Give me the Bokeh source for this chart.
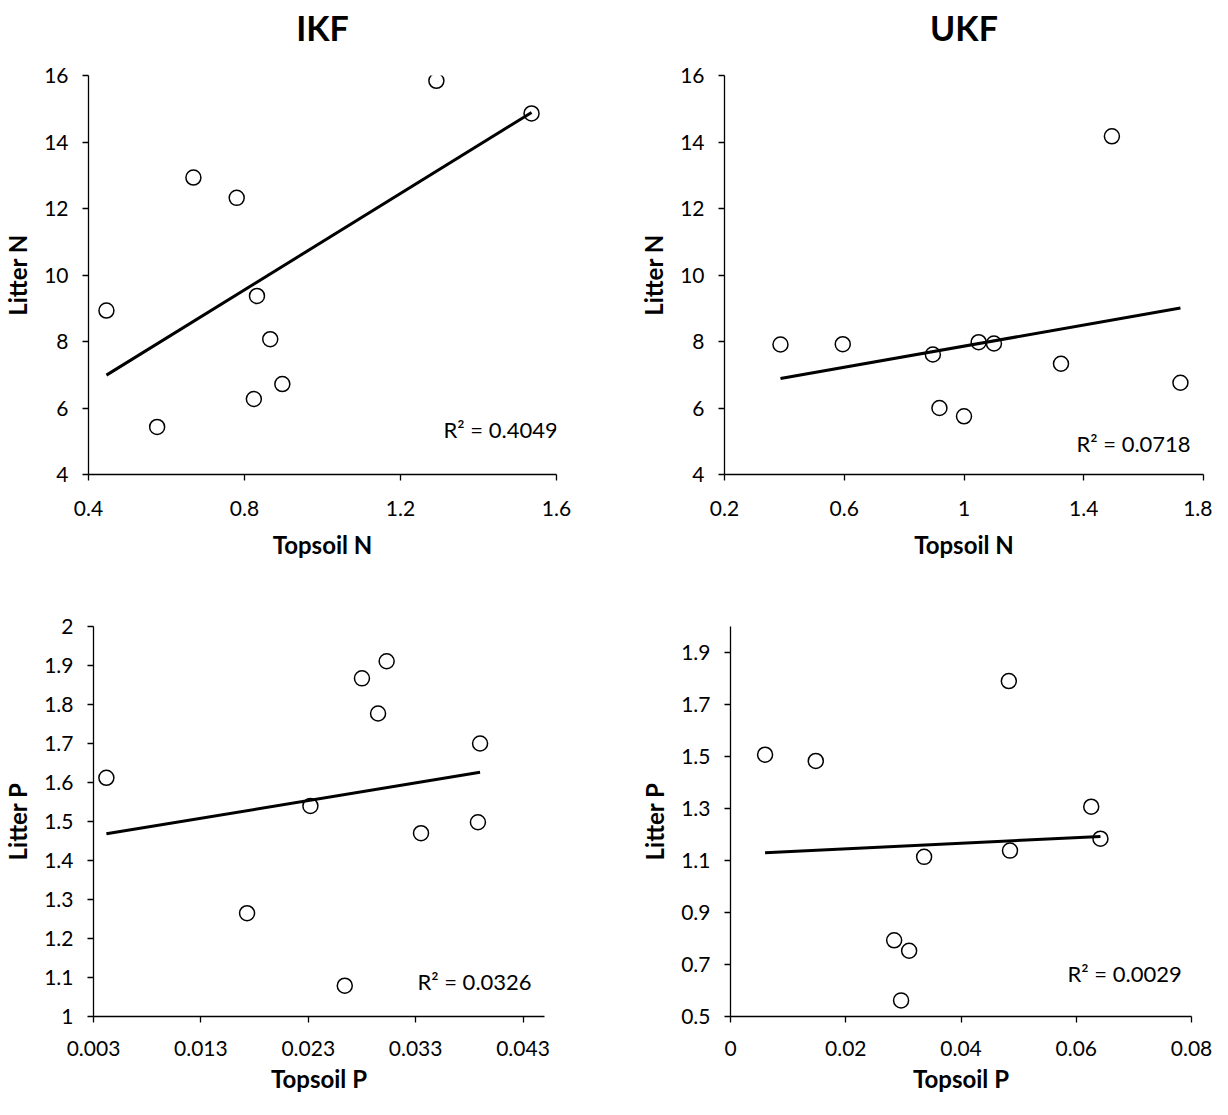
import numpy as np
from bokeh.plotting import figure
from bokeh.layouts import column, row
from bokeh.models import FixedTicker, CustomJSTickFormatter, Label, Range1d, Title
from bokeh.embed import file_html
from bokeh.resources import INLINE

# ---- data ----
ikf_topsoil_n = [1.292, 1.536, 0.669, 0.780, 0.446, 0.832, 0.866, 0.897, 0.824, 0.576]
ikf_litter_n = [15.84, 14.86, 12.93, 12.32, 8.93, 9.37, 8.07, 6.72, 6.27, 5.43]

ukf_topsoil_n = [0.387, 0.595, 0.896, 0.918, 1.000, 1.049, 1.100, 1.324, 1.494, 1.723]
ukf_litter_n = [7.91, 7.92, 7.61, 6.00, 5.75, 7.98, 7.94, 7.33, 14.17, 6.76]

ikf_topsoil_p = [0.0042, 0.0173, 0.0232, 0.0264, 0.0280, 0.0295, 0.0303, 0.0335, 0.0388, 0.0390]
ikf_litter_p = [1.612, 1.265, 1.540, 1.079, 1.867, 1.777, 1.911, 1.470, 1.498, 1.700]

ukf_topsoil_p = [0.0060, 0.0148, 0.0284, 0.0310, 0.0296, 0.0336, 0.0483, 0.0485, 0.0626, 0.0642]
ukf_litter_p = [1.507, 1.483, 0.793, 0.753, 0.562, 1.114, 1.790, 1.138, 1.307, 1.184]

r2_labels = ["R\u00b2 = 0.4049", "R\u00b2 = 0.0718", "R\u00b2 = 0.0326", "R\u00b2 = 0.0029"]
titles = ["IKF", "UKF"]

ticks_n_ikf_x = [0.4, 0.8, 1.2, 1.6]
ticks_n_ukf_x = [0.2, 0.6, 1.0, 1.4, 1.8]
ticks_n_y = [4, 6, 8, 10, 12, 14, 16]
ticks_p_ikf_x = [0.003, 0.013, 0.023, 0.033, 0.043]
ticks_p_ikf_y = [1.0, 1.1, 1.2, 1.3, 1.4, 1.5, 1.6, 1.7, 1.8, 1.9, 2.0]
ticks_p_ukf_x = [0.0, 0.02, 0.04, 0.06, 0.08]
ticks_p_ukf_y = [0.5, 0.7, 0.9, 1.1, 1.3, 1.5, 1.7, 1.9]

FONT = "Lato"
fmt_code = "return String(parseFloat(tick.toFixed(6)));"


def panel(x, y, xr, yr, xt, yt, xlabel, ylabel, r2, r2x, r2y,
          width, height, borders, xstand, title=None):
    left, right, top, bottom = borders
    p = figure(width=width, height=height, output_backend="svg",
               toolbar_location=None, x_range=Range1d(*xr), y_range=Range1d(*yr),
               min_border_left=left, min_border_right=right,
               min_border_top=top, min_border_bottom=bottom,
               title=None)
    p.outline_line_color = None
    p.grid.visible = False
    p.background_fill_color = "white"
    p.border_fill_color = "white"
    if title:
        p.add_layout(Title(text=" ", text_font_size="23px", standoff=0), "above")
        p.add_layout(Title(text=title, align="center", text_font=FONT,
                           text_font_size="34px", text_font_style="bold",
                           text_color="black", standoff=0), "above")
    for ax, ticks in ((p.xaxis[0], xt), (p.yaxis[0], yt)):
        ax.ticker = FixedTicker(ticks=ticks)
        ax.formatter = CustomJSTickFormatter(code=fmt_code)
        ax.minor_tick_line_color = None
        ax.major_tick_in = 0
        ax.major_tick_out = 6
        ax.axis_line_color = "black"
        ax.axis_line_width = 1.3
        ax.major_tick_line_color = "black"
        ax.major_tick_line_width = 1.3
        ax.major_label_text_font = FONT
        ax.major_label_text_font_size = "21px"
        ax.major_label_text_color = "black"
        ax.axis_label_text_font = FONT
        ax.axis_label_text_font_size = "24px"
        ax.axis_label_text_font_style = "bold"
        ax.axis_label_text_color = "black"
    p.xaxis.axis_label = xlabel
    p.yaxis.axis_label = ylabel
    p.xaxis.major_label_standoff = xstand[0]
    p.xaxis.axis_label_standoff = xstand[1]
    p.yaxis.major_label_standoff = 14
    p.yaxis.axis_label_standoff = 9

    xa = np.array(x)
    ya = np.array(y)
    slope, icpt = np.polyfit(xa, ya, 1)
    lx = np.array([xa.min(), xa.max()])
    p.scatter(x, y, marker="circle", size=15, fill_color=None,
              line_color="black", line_width=1.5)
    p.line(lx, icpt + slope * lx, line_color="black", line_width=3)
    p.add_layout(Label(x=r2x, y=r2y, text=r2, text_align="right",
                       text_baseline="middle", text_font=FONT,
                       text_font_size="22px", text_color="black"))
    return p


p1 = panel(ikf_topsoil_n, ikf_litter_n, (0.4, 1.6), (4, 16), ticks_n_ikf_x, ticks_n_y,
           "Topsoil N", "Litter N", r2_labels[0], 1.603, 5.35,
           606, 580, (84, 50, 75, 106), (20, 11), title=titles[0])
p2 = panel(ukf_topsoil_n, ukf_litter_n, (0.2, 1.8), (4, 16), ticks_n_ukf_x, ticks_n_y,
           "Topsoil N", "Litter N", r2_labels[1], 1.757, 4.93,
           606, 580, (118, 9, 75, 106), (20, 11), title=titles[1])
p3 = panel(ikf_topsoil_p, ikf_litter_p, (0.003, 0.045), (1.0, 2.0), ticks_p_ikf_x, ticks_p_ikf_y,
           "Topsoil P", "Litter P", r2_labels[2], 0.0438, 1.09,
           606, 519, (91, 62, 46, 83), (18, 5))
p4 = panel(ukf_topsoil_p, ukf_litter_p, (0.0, 0.08), (0.5, 2.0), ticks_p_ukf_x, ticks_p_ukf_y,
           "Topsoil P", "Litter P", r2_labels[3], 0.0783, 0.664,
           606, 519, (124, 21, 46, 83), (18, 5))

layout = column(row(p1, p2, spacing=0), row(p3, p4, spacing=0), spacing=0)

with open("out.html", "w") as f:
    f.write(file_html(layout, INLINE))
